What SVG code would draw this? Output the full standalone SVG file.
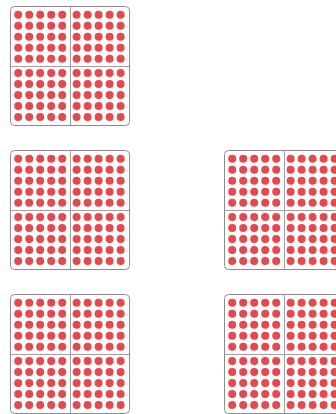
<svg xmlns="http://www.w3.org/2000/svg" xmlns:xlink="http://www.w3.org/1999/xlink" width="336" height="414" viewBox="0 0 336 414">
<style>
.frame{fill:#ffffff;stroke:#8c8c8c;stroke-width:1}
.div{stroke:#a0a0a0;stroke-width:1}
.dot{fill:#e5484f}
</style>
<defs>
<g id="row">
<circle class="dot" cx="0" cy="0" r="4"/>
<circle class="dot" cx="11" cy="0" r="4"/>
<circle class="dot" cx="22" cy="0" r="4"/>
<circle class="dot" cx="33" cy="0" r="4"/>
<circle class="dot" cx="44" cy="0" r="4"/>
</g>
<g id="quad">
<use xlink:href="#row" href="#row" y="0"/>
<use xlink:href="#row" href="#row" y="11"/>
<use xlink:href="#row" href="#row" y="22"/>
<use xlink:href="#row" href="#row" y="33"/>
<use xlink:href="#row" href="#row" y="44"/>
</g>
<g id="hundred">
<rect class="frame" x="0.5" y="0.5" width="119" height="119" rx="4"/>
<line class="div" x1="60.5" y1="1" x2="60.5" y2="119"/>
<line class="div" x1="1" y1="60.5" x2="119" y2="60.5"/>
<use xlink:href="#quad" href="#quad" x="8.2" y="8.8"/>
<use xlink:href="#quad" href="#quad" x="66.6" y="8.8"/>
<use xlink:href="#quad" href="#quad" x="8.2" y="67"/>
<use xlink:href="#quad" href="#quad" x="66.6" y="67"/>
</g>
</defs>
<g id="block1"><use xlink:href="#hundred" href="#hundred" x="10" y="6"/></g>
<g id="block2"><use xlink:href="#hundred" href="#hundred" x="10" y="150"/></g>
<g id="block3"><use xlink:href="#hundred" href="#hundred" x="224" y="150"/></g>
<g id="block4"><use xlink:href="#hundred" href="#hundred" x="10" y="294"/></g>
<g id="block5"><use xlink:href="#hundred" href="#hundred" x="224" y="294"/></g>
<g id="connectors"/>
</svg>
